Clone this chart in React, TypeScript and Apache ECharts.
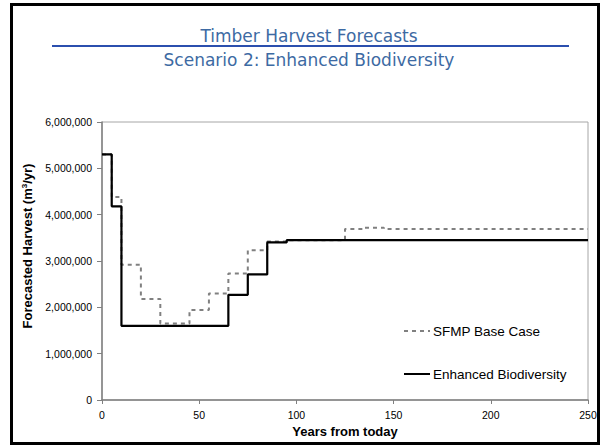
import React, { useEffect, useRef } from "react";
import * as echarts from "echarts";

const titleMain = "Timber Harvest Forecasts";
const titleSub = "Scenario 2: Enhanced Biodiversity";
const seriesNames = ["SFMP Base Case", "Enhanced Biodiversity"];

// step-start years and harvest values (m3/yr); each value holds until the next year
const baseYears = [0, 5, 10, 20, 30, 45, 55, 65, 75, 85, 95, 125, 135, 145, 250];
const baseValues = [5300000, 4380000, 2920000, 2180000, 1650000, 1940000, 2300000, 2730000, 3230000, 3420000, 3450000, 3690000, 3720000, 3690000, 3690000];

const bioYears = [0, 5, 10, 65, 75, 85, 95, 250];
const bioValues = [5300000, 4180000, 1600000, 2270000, 2710000, 3400000, 3450000, 3450000];

const xTicks = [0, 50, 100, 150, 200, 250];
const yTicks = [0, 1000000, 2000000, 3000000, 4000000, 5000000, 6000000];

export default function App() {
  const ref = useRef<HTMLDivElement>(null);
  useEffect(() => {
    document.body.style.margin = "0";
    const chart = echarts.init(ref.current!, null, { renderer: "svg" });
    const font = "'Liberation Sans', Arial, sans-serif";
    chart.setOption({
      animation: false,
      backgroundColor: "#ffffff",
      grid: {
        left: 102,
        right: 14,
        top: 122,
        bottom: 46,
        show: true,
        borderColor: "#a6a6a6",
        borderWidth: 1,
      },
      legend: {
        left: 403,
        top: 324,
        padding: 0,
        orient: "vertical",
        itemWidth: 26,
        itemHeight: 14,
        itemGap: 29,
        itemStyle: { opacity: 0 },
        textStyle: { fontFamily: font, fontSize: 13.5, color: "#000", padding: [0, 0, 0, -2] },
        data: seriesNames,
      },
      xAxis: {
        type: "value",
        min: xTicks[0],
        max: xTicks[xTicks.length - 1],
        interval: 50,
        name: "Years from today",
        nameLocation: "middle",
        nameGap: 23,
        nameTextStyle: { fontFamily: font, fontSize: 13, fontWeight: "bold", color: "#000" },
        axisLine: { lineStyle: { color: "#808080", width: 1.5 } },
        axisTick: { show: true, length: 4, lineStyle: { color: "#808080" } },
        axisLabel: { margin: 9, fontFamily: font, fontSize: 10.5, color: "#000" },
        splitLine: { show: false },
      },
      yAxis: {
        type: "value",
        min: yTicks[0],
        max: yTicks[yTicks.length - 1],
        interval: 1000000,
        name: "{a|Forecasted Harvest (m}{s|3}{a|/yr)}",
        nameLocation: "middle",
        nameGap: 62,
        nameTextStyle: {
          padding: [0, 0, 0, 30],
          rich: {
            a: { fontFamily: font, fontSize: 13, fontWeight: "bold", color: "#000" },
            s: { fontFamily: font, fontSize: 8, fontWeight: "bold", color: "#000", padding: [0, 0, 7, 0] },
          },
        },
        axisLine: { show: true, lineStyle: { color: "#808080", width: 1.5 } },
        axisTick: { show: true, length: 5, lineStyle: { color: "#808080" } },
        axisLabel: {
          margin: 10,
          fontFamily: font,
          fontSize: 10.5,
          color: "#000",
          formatter: (v: number) => v.toLocaleString("en-US"),
        },
        splitLine: { show: false },
      },
      series: [
        {
          name: seriesNames[0],
          type: "line",
          step: "end",
          symbol: "none",
          data: baseYears.map((y, i) => [y, baseValues[i]]),
          lineStyle: { color: "#808080", width: 2, type: [4, 4] },
          itemStyle: { color: "#808080" },
          z: 2,
        },
        {
          name: seriesNames[1],
          type: "line",
          step: "end",
          symbol: "none",
          data: bioYears.map((y, i) => [y, bioValues[i]]),
          lineStyle: { color: "#000000", width: 2.2 },
          itemStyle: { color: "#000000" },
          z: 3,
        },
      ],
      graphic: [
        {
          type: "rect",
          z: -1,
          shape: { x: 11.5, y: 4.5, width: 587, height: 439 },
          style: { fill: "none", stroke: "#000", lineWidth: 3 },
        },
        {
          type: "line",
          shape: { x1: 52, y1: 46, x2: 569, y2: 46 },
          style: { stroke: "#2b4fae", lineWidth: 2 },
        },
        {
          type: "text",
          x: 309,
          y: 35.5,
          style: {
            text: titleMain,
            fontFamily: "'DejaVu Sans', sans-serif",
            fontSize: 17,
            fill: "#3d6aa3",
            align: "center",
            verticalAlign: "middle",
          },
        },
        {
          type: "text",
          x: 309,
          y: 60,
          style: {
            text: titleSub,
            fontFamily: "'DejaVu Sans', sans-serif",
            fontSize: 17,
            fill: "#3d6aa3",
            align: "center",
            verticalAlign: "middle",
          },
        },
      ],
    });
    return () => chart.dispose();
  }, []);
  return <div ref={ref} style={{ width: 602, height: 446 }} />;
}
